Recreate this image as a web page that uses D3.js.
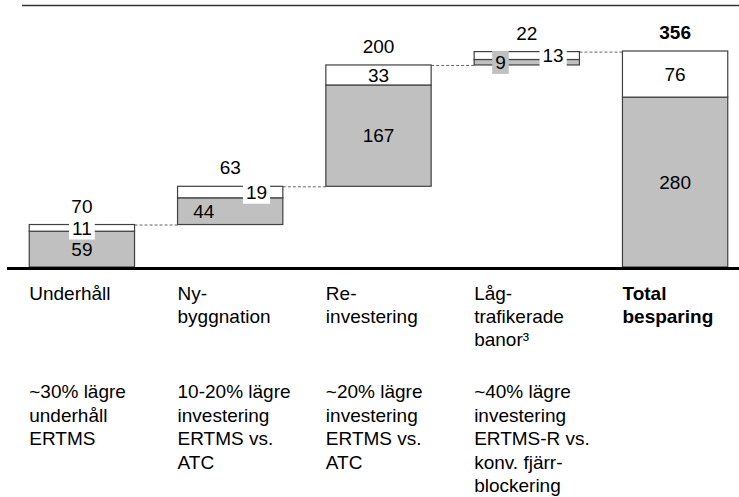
<!DOCTYPE html>
<html>
<head>
<meta charset="utf-8">
<script src="https://cdn.jsdelivr.net/npm/d3@7"></script>
<style>
  body { margin: 0; background: #fff; }
  text { font-family: "Liberation Sans", Arial, sans-serif; }
</style>
</head>
<body>
<script>
// data
let categories = [
    ["Underhåll"],
    ["Ny-", "byggnation"],
    ["Re-", "investering"],
    ["Låg-", "trafikerade", "banor³"],
    ["Total", "besparing"]
];
let lowerValues = [59, 44, 167, 9, 280];   // grå del
let upperValues = [11, 19, 33, 13, 76];    // vit del
let totals = [70, 63, 200, 22, 356];
let descriptions = [
    ["~30% lägre", "underhåll", "ERTMS"],
    ["10-20% lägre", "investering", "ERTMS vs.", "ATC"],
    ["~20% lägre", "investering", "ERTMS vs.", "ATC"],
    ["~40% lägre", "investering", "ERTMS-R vs.", "konv. fjärr-", "blockering"],
    []
];

let width = 739, height = 497, fontSize = 19;
let splitLabels = [false, true, false, true, false];
let isTotal = (d, i) => i === categories.length - 1;

// bas för vattenfallet
let bases = [];
let acc = 0;
totals.forEach((t, i) => {
    if (i === totals.length - 1) { bases.push(0); }
    else { bases.push(acc); acc += t; }
});

let rows = categories.map((c, i) => ({
    i: i,
    base: bases[i],
    lower: lowerValues[i],
    upper: upperValues[i],
    total: totals[i]
}));

let x = d3.scaleBand()
    .domain(d3.range(categories.length))
    .range([7, 750])
    .paddingInner(0.29)
    .paddingOuter(0.15);

let y = d3.scaleLinear()
    .domain([0, 356])
    .range([267, 51]);

const svg = d3.select("body").append("svg")
    .attr("width", width)
    .attr("height", height)
    .attr("viewBox", [0, 0, width, height]);

// linje upptill
svg.append("line")
    .attr("x1", 22).attr("x2", width)
    .attr("y1", 5.5).attr("y2", 5.5)
    .attr("stroke", "#333")
    .attr("stroke-width", 1.3);

// streckade förbindelser
svg.append("g")
  .selectAll("line")
  .data(rows.slice(0, -1))
  .join("line")
    .attr("x1", d => x(d.i) + x.bandwidth())
    .attr("x2", d => x(d.i + 1))
    .attr("y1", d => y(d.base + d.total) + 0.5)
    .attr("y2", d => y(d.base + d.total) + 0.5)
    .attr("stroke", "#666")
    .attr("stroke-width", 1)
    .attr("stroke-dasharray", "3,2");

// staplar
const bar = svg.append("g")
    .attr("stroke", "#404040")
    .attr("stroke-width", 1.2);

bar.selectAll("rect.lower")
  .data(rows)
  .join("rect")
    .attr("class", "lower")
    .attr("fill", "#c0c0c0")
    .attr("x", d => x(d.i))
    .attr("width", x.bandwidth())
    .attr("y", d => y(d.base + d.lower))
    .attr("height", d => y(d.base) - y(d.base + d.lower));

bar.selectAll("rect.upper")
  .data(rows)
  .join("rect")
    .attr("class", "upper")
    .attr("fill", "#fff")
    .attr("x", d => x(d.i))
    .attr("width", x.bandwidth())
    .attr("y", d => y(d.base + d.lower + d.upper))
    .attr("height", d => y(d.base + d.lower) - y(d.base + d.lower + d.upper));

// segmentetiketter
let segLabels = [];
rows.forEach(d => {
    let cx = x(d.i) + x.bandwidth() / 2;
    let shift = splitLabels[d.i] ? x.bandwidth() / 4 : 0;
    segLabels.push({v: d.lower, fill: "#c0c0c0", x: cx - shift,
        y0: y(d.base), y1: y(d.base + d.lower)});
    segLabels.push({v: d.upper, fill: "#fff", x: cx + shift,
        y0: y(d.base + d.lower), y1: y(d.base + d.lower + d.upper)});
});

const lab = svg.append("g")
  .selectAll("g")
  .data(segLabels)
  .join("g");

lab.append("text")
    .attr("x", d => d.x)
    .attr("y", d => (d.y0 + d.y1) / 2 + fontSize * 0.35)
    .attr("text-anchor", "middle")
    .attr("font-size", fontSize)
    .text(d => d.v);

// bakgrundsruta där segmentet är för litet för texten
lab.each(function(d) {
    if (d.y0 - d.y1 >= fontSize) return;
    let g = d3.select(this);
    let b = g.select("text").node().getBBox();
    g.insert("rect", "text")
        .attr("x", b.x - 3)
        .attr("y", b.y - 1)
        .attr("width", b.width + 6)
        .attr("height", b.height + 2)
        .attr("fill", d.fill);
});

// summor ovanför
svg.append("g")
  .selectAll("text")
  .data(rows)
  .join("text")
    .attr("x", d => x(d.i) + x.bandwidth() / 2)
    .attr("y", d => y(d.base + d.total) - 12)
    .attr("text-anchor", "middle")
    .attr("font-size", fontSize)
    .attr("font-weight", (d, i) => isTotal(d, i) ? "bold" : null)
    .text(d => d.total);

// baslinje
svg.append("line")
    .attr("x1", 7).attr("x2", width)
    .attr("y1", y(0) + 1.5).attr("y2", y(0) + 1.5)
    .attr("stroke", "#000")
    .attr("stroke-width", 3);

// kategorier
svg.append("g")
  .selectAll("text")
  .data(categories)
  .join("text")
    .attr("x", (d, i) => x(i))
    .attr("y", 300)
    .attr("font-size", fontSize)
    .attr("font-weight", (d, i) => isTotal(d, i) ? "bold" : null)
  .selectAll("tspan")
  .data(d => d)
  .join("tspan")
    .attr("x", function() { return this.parentNode.getAttribute("x"); })
    .attr("dy", (d, j) => j === 0 ? 0 : 23)
    .text(d => d);

// beskrivningar
svg.append("g")
  .selectAll("text")
  .data(descriptions)
  .join("text")
    .attr("x", (d, i) => x(i))
    .attr("y", 398)
    .attr("font-size", fontSize)
  .selectAll("tspan")
  .data(d => d)
  .join("tspan")
    .attr("x", function() { return this.parentNode.getAttribute("x"); })
    .attr("dy", (d, j) => j === 0 ? 0 : 23.5)
    .text(d => d);
</script>
</body>
</html>
